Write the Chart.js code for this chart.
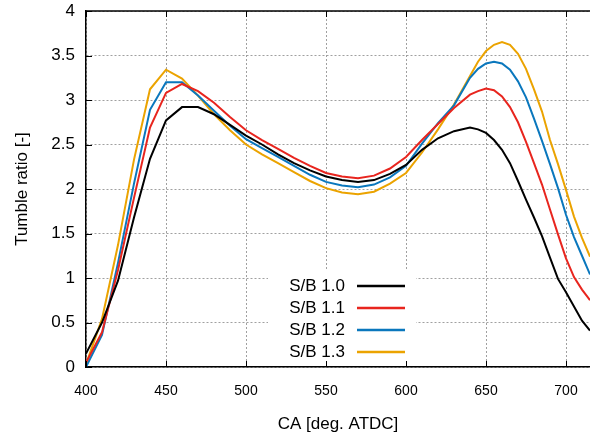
<!DOCTYPE html>
<html>
<head>
<meta charset="utf-8">
<script src="https://cdn.jsdelivr.net/npm/chart.js@4"></script>
<style>
  html,body{margin:0;padding:0;background:#fff;}
  #wrap{width:590px;height:438px;}
</style>
</head>
<body>
<div id="wrap"><canvas id="c" width="590" height="438"></canvas></div>
<script>
// crank angle samples (deg. ATDC)
const CA = [400,410,420,430,440,450,460,470,480,490,500,510,520,530,540,550,560,570,580,590,600,
            610,620,630,640,645,650,655,660,665,670,675,680,685,690,695,700,705,710,715];

// tumble ratio per stroke/bore ratio
const SB10 = [0.15,0.50,0.97,1.68,2.34,2.77,2.92,2.92,2.84,2.72,2.60,2.50,2.39,2.29,2.21,2.14,2.10,2.08,2.10,2.17,2.27,
              2.44,2.57,2.65,2.69,2.67,2.63,2.55,2.44,2.29,2.09,1.88,1.68,1.47,1.23,0.99,0.84,0.68,0.52,0.41];
const SB11 = [0.05,0.39,1.09,1.90,2.69,3.08,3.18,3.10,2.97,2.81,2.66,2.55,2.45,2.35,2.26,2.18,2.14,2.12,2.15,2.23,2.36,
              2.55,2.73,2.91,3.06,3.10,3.13,3.11,3.04,2.92,2.75,2.53,2.29,2.05,1.77,1.49,1.22,1.01,0.87,0.75];
const SB12 = [0.00,0.36,1.17,2.06,2.89,3.20,3.20,3.05,2.88,2.71,2.56,2.46,2.36,2.26,2.16,2.08,2.04,2.02,2.05,2.13,2.26,
              2.51,2.74,2.94,3.25,3.35,3.41,3.43,3.41,3.34,3.21,3.03,2.79,2.54,2.28,2.01,1.71,1.46,1.25,1.04];
const SB13 = [0.03,0.54,1.37,2.33,3.12,3.34,3.24,3.05,2.84,2.66,2.50,2.39,2.29,2.19,2.09,2.01,1.96,1.94,1.97,2.06,2.18,
              2.41,2.67,2.95,3.27,3.43,3.55,3.62,3.65,3.62,3.52,3.35,3.12,2.87,2.55,2.28,1.99,1.69,1.45,1.24];

const LABELS = ["S/B 1.0","S/B 1.1","S/B 1.2","S/B 1.3"];
const COLORS = ["#000000","#e8251e","#0a77bd","#eba300"];
const X_TICKS = [400,450,500,550,600,650,700];
const Y_TICKS = [0,0.5,1,1.5,2,2.5,3,3.5,4];

const FONT = "'Liberation Sans', Arial, sans-serif";

function pts(ys){ return ys.map((v,i)=>({x:CA[i], y:v})); }

// top border, mirrored inner ticks, and the in-plot legend box
const frame = {
  id: "frame",
  afterDatasetsDraw(chart){
    const {ctx, chartArea:a, scales:{x, y}} = chart;
    ctx.save();

    // legend
    ctx.fillStyle = "#fff";
    ctx.fillRect(268, 270, 148, 95);
    ctx.font = "17px " + FONT;
    ctx.textAlign = "right";
    ctx.textBaseline = "middle";
    chart.data.datasets.forEach((ds, i)=>{
      const yy = 286 + i*22;
      ctx.fillStyle = "#000";
      ctx.fillText(ds.label, 345, yy);
      ctx.strokeStyle = ds.borderColor;
      ctx.lineWidth = 2.5;
      ctx.beginPath(); ctx.moveTo(357, yy); ctx.lineTo(405, yy); ctx.stroke();
    });

    // inner ticks
    ctx.strokeStyle = "#000";
    ctx.lineWidth = 1;
    ctx.beginPath();
    X_TICKS.forEach(v=>{
      const px = Math.round(x.getPixelForValue(v)) + 0.5;
      ctx.moveTo(px, a.bottom); ctx.lineTo(px, a.bottom-6);
      ctx.moveTo(px, a.top); ctx.lineTo(px, a.top+6);
    });
    Y_TICKS.forEach(v=>{
      const py = Math.round(y.getPixelForValue(v)) + 0.5;
      ctx.moveTo(a.left, py); ctx.lineTo(a.left+6, py);
    });
    ctx.stroke();

    // top border
    ctx.lineWidth = 1.5;
    ctx.beginPath(); ctx.moveTo(a.left, a.top); ctx.lineTo(a.right, a.top); ctx.stroke();
    ctx.restore();
  }
};

new Chart(document.getElementById("c"), {
  type: "line",
  data: {
    datasets: [SB10, SB11, SB12, SB13].map((s, i)=>({
      label: LABELS[i],
      data: pts(s),
      borderColor: COLORS[i],
      backgroundColor: COLORS[i],
      borderWidth: 2,
      pointRadius: 0,
      tension: 0,
      fill: false
    }))
  },
  options: {
    responsive: false,
    devicePixelRatio: 1,
    animation: false,
    layout: { padding: { top: 11, right: 0, left: 0, bottom: 0 } },
    plugins: { legend: { display: false }, tooltip: { enabled: false } },
    scales: {
      x: {
        type: "linear",
        min: 400, max: 715,
        afterBuildTicks: s => { s.ticks = X_TICKS.map(v=>({value:v})); },
        afterFit: s => { s.height = 71; s.paddingLeft = 0; s.paddingRight = 0; },
        ticks: { color: "#000", font: { family: FONT, size: 14 }, padding: 16, maxRotation: 0,
                 callback: v => String(v) },
        grid: { color: "#a0a0a0", lineWidth: 1, drawTicks: false },
        border: { color: "#000", width: 1.5, dash: [2,2] },
        title: { display: true, text: "CA [deg. ATDC]", color: "#000",
                 font: { family: FONT, size: 17 }, padding: { top: 0, bottom: 3 } }
      },
      y: {
        min: 0, max: 4,
        afterBuildTicks: s => { s.ticks = Y_TICKS.map(v=>({value:v})); },
        afterFit: s => { s.width = 86; s.paddingTop = 0; s.paddingBottom = 0; },
        ticks: { color: "#000", font: { family: FONT, size: 17 }, padding: 11,
                 callback: v => String(v) },
        grid: { color: "#a0a0a0", lineWidth: 1, drawTicks: false },
        border: { color: "#000", width: 1.5, dash: [2,2] },
        title: { display: true, text: "Tumble ratio [-]", color: "#000",
                 font: { family: FONT, size: 17 }, padding: { top: 12, bottom: 0 } }
      }
    }
  },
  plugins: [frame]
});
</script>
</body>
</html>
